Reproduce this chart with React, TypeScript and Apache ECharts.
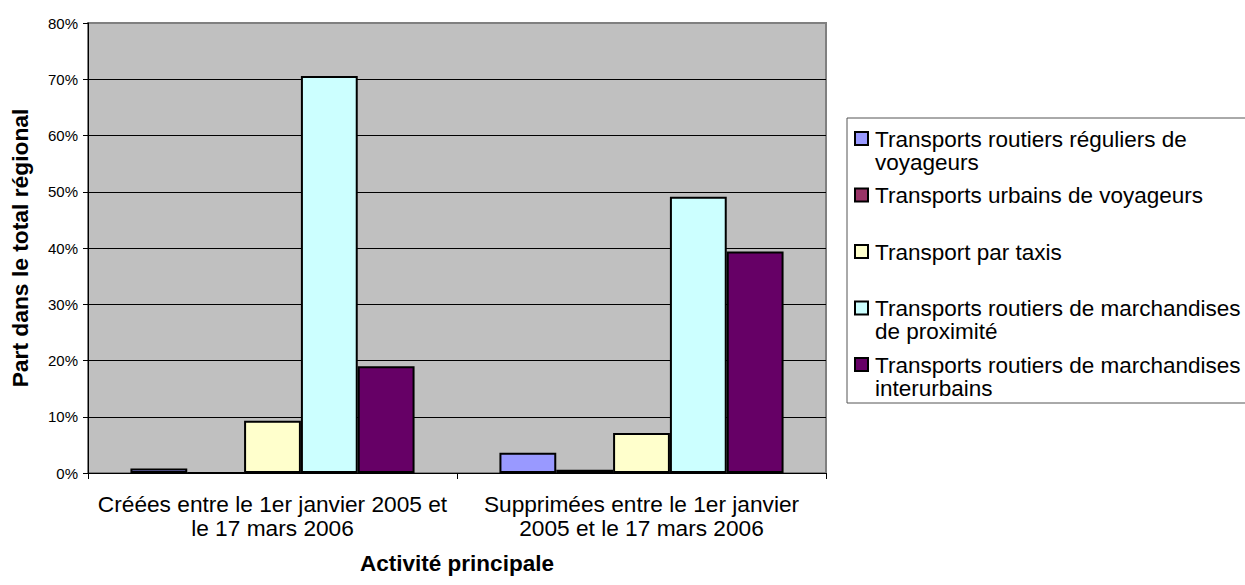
import React, { useEffect, useRef } from "react";
import * as echarts from "echarts";

const categories = [
  "Créées entre le 1er janvier 2005 et\nle 17 mars 2006",
  "Supprimées entre le 1er janvier\n2005 et le 17 mars 2006",
];
const seriesNames = [
  "Transports routiers réguliers de voyageurs",
  "Transports urbains de voyageurs",
  "Transport par taxis",
  "Transports routiers de marchandises de proximité",
  "Transports routiers de marchandises interurbains",
];
const legendLines = [
  ["Transports routiers réguliers de", "voyageurs"],
  ["Transports urbains de voyageurs"],
  ["Transport par taxis"],
  ["Transports routiers de marchandises", "de proximité"],
  ["Transports routiers de marchandises", "interurbains"],
];
const colors = ["#9999FF", "#993366", "#FFFFCC", "#CCFFFF", "#660066"];
const regulierValues = [0.008, 0.036];
const urbainValues = [0, 0.006];
const taxiValues = [0.093, 0.071];
const proximiteValues = [0.706, 0.491];
const interurbainValues = [0.19, 0.394];
const seriesValues = [regulierValues, urbainValues, taxiValues, proximiteValues, interurbainValues];

const FONT = "'Liberation Sans', Arial, sans-serif";

export default function App() {
  const ref = useRef<HTMLDivElement>(null);
  useEffect(() => {
    if (!ref.current) return;
    const chart = echarts.init(ref.current, undefined, { renderer: "svg" });

    const legendX = 847;
    const legendTop = 118;
    const legendBottom = 403;
    const pitch = 56.5;
    const firstLine = 139;
    const lineGap = 23;
    const legendEls: any[] = [
      {
        type: "rect",
        shape: { x: legendX, y: legendTop, width: 430, height: legendBottom - legendTop },
        style: { fill: "#fff", stroke: "#555", lineWidth: 1 },
        silent: true,
      },
    ];
    legendLines.forEach((lines, i) => {
      const cy = firstLine + pitch * i;
      legendEls.push({
        type: "rect",
        shape: { x: 855, y: cy - 7, width: 13, height: 13 },
        style: { fill: colors[i], stroke: "#000", lineWidth: 2 },
        silent: true,
      });
      lines.forEach((t, j) => {
        legendEls.push({
          type: "text",
          x: 875,
          y: cy + j * lineGap,
          style: {
            text: t,
            font: `22.5px ${FONT}`,
            fill: "#000",
            verticalAlign: "middle",
            align: "left",
          },
          silent: true,
        });
      });
    });

    chart.setOption({
      animation: false,
      backgroundColor: "#fff",
      grid: {
        left: 86,
        right: 1245 - 826,
        top: 23,
        bottom: 585 - 473,
        show: true,
        backgroundColor: "#C0C0C0",
        borderColor: "#808080",
        borderWidth: 2,
        containLabel: false,
      },
      xAxis: {
        type: "category",
        data: categories,
        name: "Activité principale",
        nameLocation: "middle",
        nameGap: 79,
        nameTextStyle: { fontFamily: FONT, fontSize: 22.5, fontWeight: "bold", color: "#000" },
        axisLine: { lineStyle: { color: "#000", width: 1 } },
        axisTick: { show: true, alignWithLabel: false, length: 6, lineStyle: { color: "#000" } },
        axisLabel: {
          fontFamily: FONT,
          fontSize: 22.7,
          color: "#000",
          lineHeight: 24,
          margin: 19,
          interval: 0,
          align: "center",
        },
        splitLine: { show: false },
      },
      yAxis: {
        type: "value",
        min: 0,
        max: 0.8,
        interval: 0.1,
        name: "Part dans le total régional",
        nameLocation: "middle",
        nameRotate: 90,
        nameGap: 57,
        nameTextStyle: { fontFamily: FONT, fontSize: 22.8, fontWeight: "bold", color: "#000" },
        axisLine: { show: true, lineStyle: { color: "#000", width: 1 } },
        axisTick: { show: true, inside: false, length: 5, lineStyle: { color: "#000" } },
        axisLabel: {
          fontFamily: FONT,
          fontSize: 15,
          color: "#000",
          margin: 10,
          formatter: (v: number) => `${Math.round(v * 100)}%`,
        },
        splitLine: { show: true, showMaxLine: false, lineStyle: { color: "#000", width: 1 } },
      },
      series: seriesNames.map((name, i) => ({
        name,
        type: "bar",
        data: seriesValues[i],
        barGap: "0%",
        barCategoryGap: "23%",
        itemStyle: { color: colors[i], borderColor: "#000", borderWidth: 2 },
      })),
      graphic: legendEls,
    });
    return () => chart.dispose();
  }, []);
  return <div ref={ref} style={{ width: 1245, height: 585, position: "absolute", left: 0, top: 0 }} />;
}
